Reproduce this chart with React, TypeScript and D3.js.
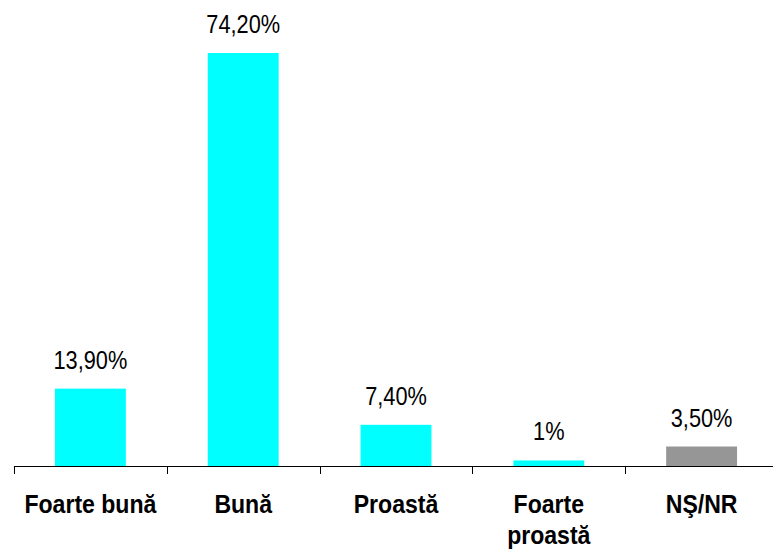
import React from "react";
import * as d3 from "d3";

const categories = ["Foarte bună", "Bună", "Proastă", "Foarte proastă", "NŞ/NR"];
const values = [13.9, 74.2, 7.4, 1, 3.5];
const valueLabels = ["13,90%", "74,20%", "7,40%", "1%", "3,50%"];
const barColors = ["#00FFFF", "#00FFFF", "#00FFFF", "#00FFFF", "#969696"];

const W = 773;
const H = 550;
const axisY = 466;
const FONT = "'Liberation Sans', Arial, sans-serif";

export default function App() {
  const band = d3.scaleBand<string>().domain(categories).range([14, 778]).padding(0);
  const y = d3.scaleLinear().domain([0, 80]).range([axisY, axisY - 80 * 5.566]);
  const bw = band.bandwidth() * 0.464;
  const boundaries = d3.range(categories.length + 1).map((i) => 14 + i * band.step());

  const wrap = (s: string) => (s.length > 12 ? s.split(" ") : [s]);

  return (
    <div style={{ position: "fixed", left: 0, top: 0 }}>
      <svg width={W} height={H} style={{ display: "block", background: "#fff" }}>
        {categories.map((c, i) => {
          const cx = (band(c) as number) + band.bandwidth() / 2;
          const top = y(values[i]);
          return (
            <g key={c}>
              <rect x={cx - bw / 2} y={top} width={bw} height={axisY - top} fill={barColors[i]} />
              <text
                transform={`translate(${cx},${top - 20}) scale(0.87,1)`}
                textAnchor="middle"
                fontFamily={FONT}
                fontSize={25}
                fill="#000"
              >
                {valueLabels[i]}
              </text>
              <text
                transform={`translate(${cx},${513}) scale(0.87,1)`}
                textAnchor="middle"
                fontFamily={FONT}
                fontSize={26.5}
                fontWeight="bold"
                fill="#000"
              >
                {wrap(c).map((line, k) => (
                  <tspan key={k} x={0} y={k * 31}>
                    {line}
                  </tspan>
                ))}
              </text>
            </g>
          );
        })}
        <line x1={14} x2={W} y1={axisY + 0.5} y2={axisY + 0.5} stroke="#000" strokeWidth={1} />
        {boundaries.map((bx, i) => (
          <line
            key={i}
            x1={Math.round(bx) + 0.5}
            x2={Math.round(bx) + 0.5}
            y1={axisY}
            y2={axisY + 8}
            stroke="#000"
            strokeWidth={1}
          />
        ))}
      </svg>
    </div>
  );
}
